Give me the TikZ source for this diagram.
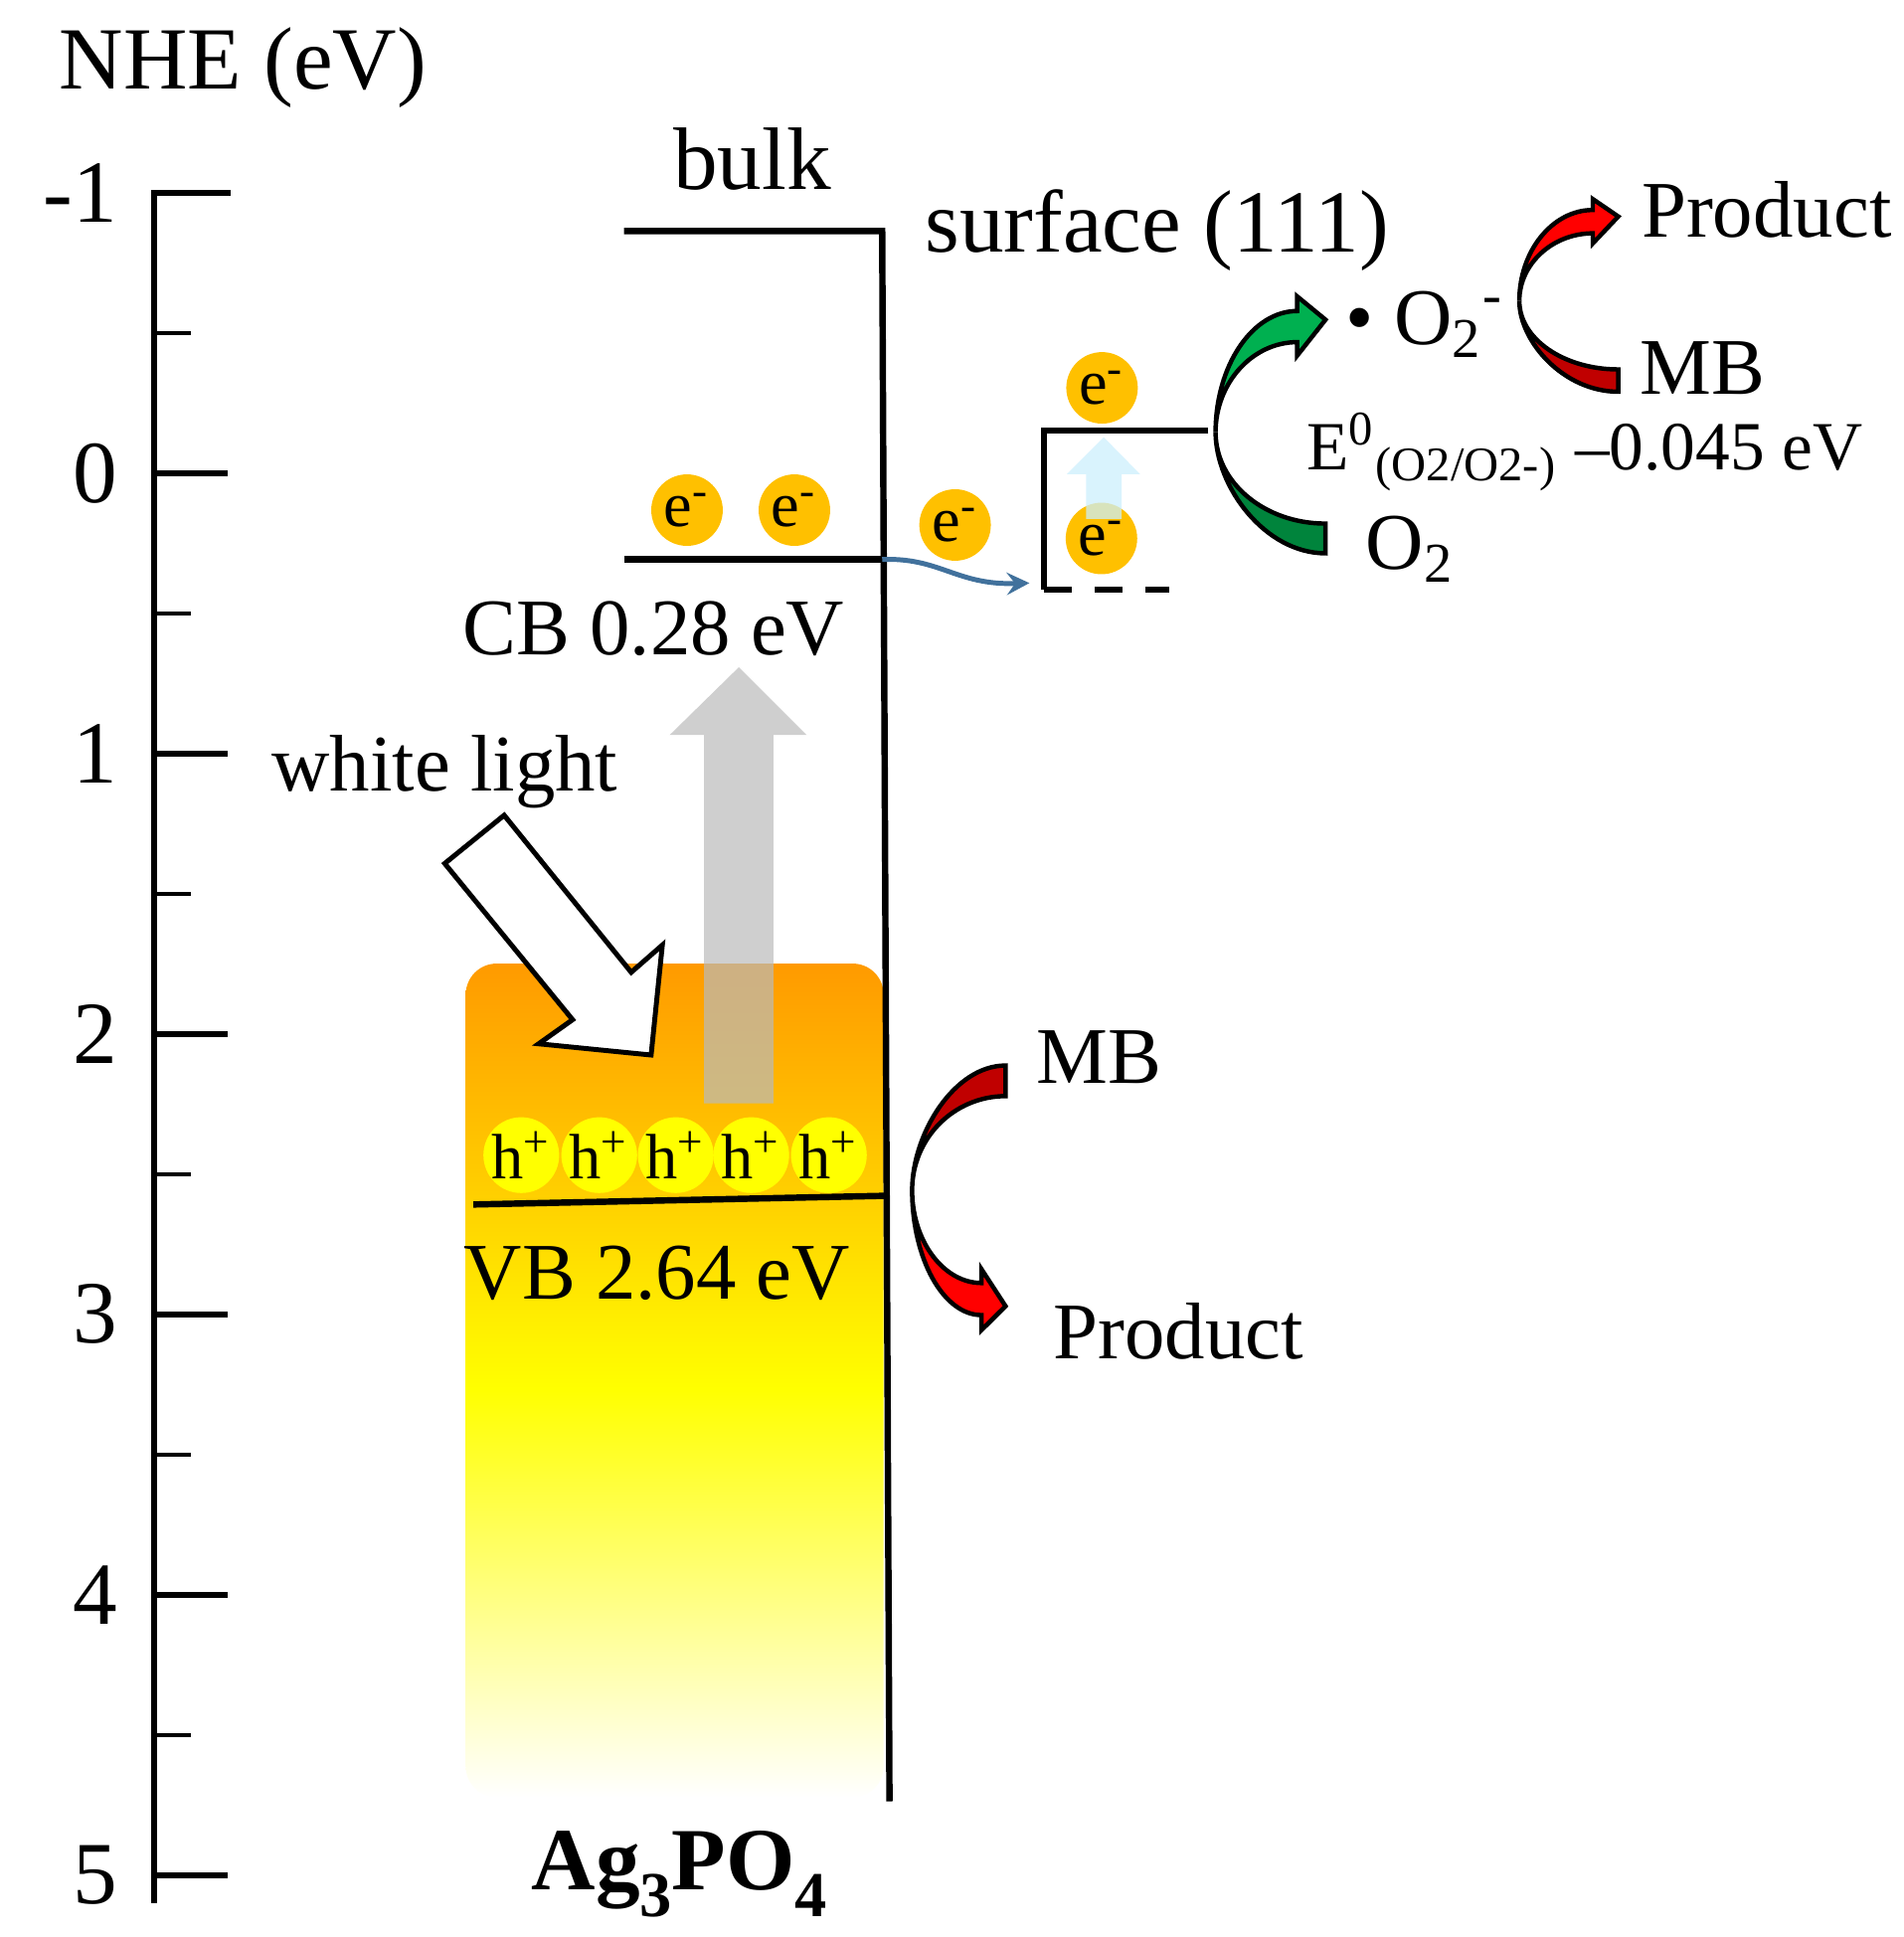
\documentclass[tikz,border=0pt]{standalone}
\usepackage{fontspec}
\setmainfont{Liberation Serif}
\usetikzlibrary{arrows}

\definecolor{eorange}{HTML}{FFC000}
\definecolor{grnfront}{HTML}{00B050}
\definecolor{grnback}{HTML}{00843C}
\definecolor{redfront}{HTML}{FF0000}
\definecolor{redback}{HTML}{C00000}
\definecolor{flowblue}{HTML}{41719C}
\definecolor{bandtop}{HTML}{FF9A00}
\definecolor{bandmid}{HTML}{FFD200}
\definecolor{bandyel}{HTML}{FFFF00}

\pgfdeclareverticalshading{bandfill}{100bp}{color(0bp)=(white); color(25bp)=(white); color(49.5bp)=(bandyel); color(60.5bp)=(bandmid); color(75bp)=(bandtop); color(100bp)=(bandtop)}

% lowered subscript for the formula
\newcommand{\lowsub}[1]{\raisebox{-0.3em}{\fontsize{13}{13}\selectfont #1}}

% curved block arrow, tail at the origin, head upwards
\newcommand{\bentarrow}[2]{%
  \filldraw[fill=#1] (0,0.053) .. controls (-0.216,0.053) and (-0.392,-0.185) .. (-0.392,-0.379)
    .. controls (-0.392,-0.198) and (-0.216,-0.053) .. (0,-0.053) -- cycle;
  \filldraw[fill=#2] (-0.392,-0.379) .. controls (-0.392,-0.617) and (-0.260,-0.811) .. (-0.101,-0.811)
    -- (-0.101,-0.863) -- (0,-0.780) -- (-0.101,-0.652) -- (-0.101,-0.700)
    .. controls (-0.260,-0.700) and (-0.392,-0.555) .. (-0.392,-0.379) -- cycle;
}

\begin{document}
\begin{tikzpicture}[x=2cm,y=-2cm,
    every node/.style={inner sep=0pt},
    big/.style={font=\fontsize{18}{20}\selectfont},
    mid/.style={font=\fontsize{16.3}{18}\selectfont},
    small/.style={font=\fontsize{14}{16}\selectfont},
    level/.style={line width=1.3pt},
    elec/.style={circle,fill=eorange,minimum size=0.51cm,font=\fontsize{13}{13}\selectfont},
    hole/.style={circle,fill=bandyel,minimum size=0.50cm,font=\fontsize{13}{13}\selectfont},
    outline/.style={line width=0.9pt,draw=black}]
	\useasboundingbox (-0.551,-1.687) rectangle (6.238,5.220);

	% energy axis
	\draw[line width=1.2pt] (0.27,-1) -- (0,-1) -- (0,5.1);
	\foreach \e in {0,...,5} \draw[line width=1.1pt] (0,\e) -- (0.26,\e);
	\foreach \e in {-0.5,0.5,...,4.5} \draw[line width=0.8pt] (0,\e) -- (0.13,\e);
	\foreach \e in {-1,...,5} \node[big,anchor=east] (lbl\e) at (-0.13,\e) {\e};
	\node[big,anchor=base] (nhe) at (0.315,-1.37) {NHE (eV)};

	% bulk
	\shade[shading=bandfill,rounded corners=0.22cm] (1.11,1.749) rectangle (2.60,4.722);
	\fill[black!27,opacity=0.7] (1.960,2.247) -- (1.960,0.934) -- (1.837,0.934) -- (2.084,0.692)
	    -- (2.326,0.934) -- (2.207,0.934) -- (2.207,2.247) -- cycle;
	\filldraw[fill=white,line width=1pt] (1.035,1.392) -- (1.247,1.220) -- (1.700,1.780) -- (1.811,1.683)
	    -- (1.771,2.075) -- (1.370,2.035) -- (1.491,1.949) -- cycle;
	\draw[level] (1.674,-0.863) -- (2.595,-0.863) -- (2.621,4.736);
	\draw[level] (1.674,0.308) coordinate (cbL) -- (2.595,0.308) coordinate (cbR);
	\draw[level] (1.137,2.608) -- (2.604,2.577);
	\foreach \x [count=\i] in {1.308,1.586,1.859,2.128,2.405}
	    \node[hole] (h\i) at (\x,2.432) {h\textsuperscript{+}};
	\node[elec] (e1) at (1.899,0.132) {e\textsuperscript{-}};
	\node[elec] (e2) at (2.282,0.132) {e\textsuperscript{-}};
	\node[elec] (e3) at (2.855,0.185) {e\textsuperscript{-}};

	% surface (111)
	\draw[level] (3.758,-0.152) -- (3.172,-0.152) -- (3.172,0.415) coordinate (sfL);
	\draw[level,dash pattern=on 0.2cm off 0.16cm] (sfL) -- (3.62,0.415);
	\node[elec] (e4) at (3.377,0.233) {e\textsuperscript{-}};
	\node[elec] (e5) at (3.379,-0.304) {e\textsuperscript{-}};
	\fill[cyan!20,opacity=0.75] (3.322,0.163) -- (3.322,0.004) -- (3.253,0.004) -- (3.385,-0.128)
	    -- (3.515,0.004) -- (3.449,0.004) -- (3.449,0.163) -- cycle;
	\coordinate (sfIn) at (3.12,0.392);
	\draw[flowblue,line width=1pt,-stealth] (cbR) .. controls (2.80,0.30) and (2.86,0.40) .. (sfIn);

	% labels
	\node[big,anchor=base] (bulk) at (2.132,-1.013) {bulk};
	\node[big,anchor=base] (surf) at (3.575,-0.789) {surface (111)};
	\node[mid,anchor=base] (cb) at (1.78,0.648) {CB 0.28 eV};
	\node[mid,anchor=base] (light) at (1.035,1.132) {white light};
	\node[mid,anchor=base] (vb) at (1.793,2.947) {VB 2.64 eV};
	\node[big,anchor=base] (ag) at (1.872,5.053) {\textbf{Ag\lowsub{3}PO\lowsub{4}}};
	\node[mid,anchor=base west] (supox) at (4.245,-0.458) {\textbullet{} O\textsubscript{2}\textsuperscript{-}};
	\node[mid,anchor=base west] (ox) at (4.317,0.344) {O\textsubscript{2}};
	\node[small,anchor=base west] (pot) at (4.106,-0.01) {E\textsuperscript{0}\textsubscript{(O2/O2-)} --0.045 eV};
	\node[mid,anchor=base west] (mb1) at (5.295,-0.280) {MB};
	\node[mid,anchor=base west] (prod1) at (5.30,-0.843) {Product};
	\node[mid,anchor=base west] (mb2) at (3.141,2.176) {MB};
	\node[mid,anchor=base west] (prod2) at (3.203,3.159) {Product};

	% reaction arrows
	\begin{scope}[shift={(4.176,0.233)},outline]
	    \bentarrow{grnback}{grnfront}
	\end{scope}
	\begin{scope}[shift={(5.220,-0.330)},xscale=0.9,yscale=0.75,outline]
	    \bentarrow{redback}{redfront}
	\end{scope}
	\begin{scope}[shift={(3.035,2.167)},xscale=0.85,yscale=-1.03,outline]
	    \bentarrow{redback}{redfront}
	\end{scope}
\end{tikzpicture}
\end{document}
